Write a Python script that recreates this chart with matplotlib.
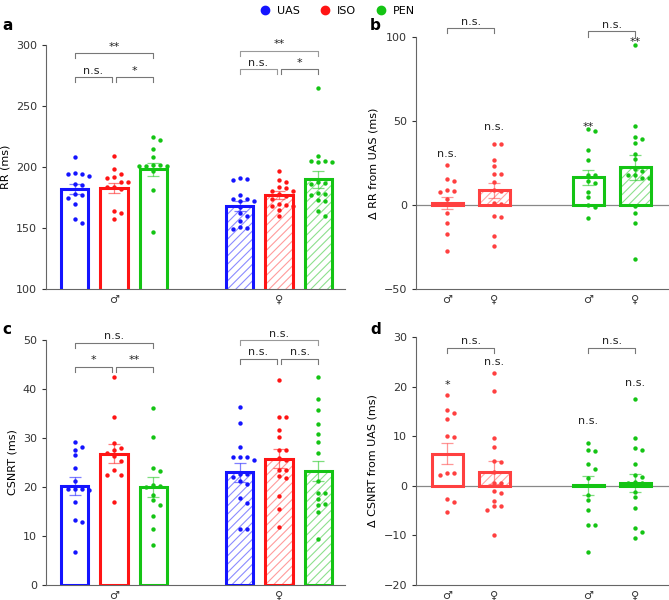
import numpy as np
import matplotlib.pyplot as plt
from matplotlib.lines import Line2D

plt.rcParams['font.family'] = ['DejaVu Sans']
plt.rcParams['hatch.linewidth'] = 0.8

BLUE = "#1414ff"
RED = "#ff1414"
GREEN = "#14c414"
RED_D = "#ff4040"
LIGHT = {BLUE: "#8c8cff", RED: "#ff9c9c", GREEN: "#8ee08e", RED_D: "#ffa8a8"}
GREY = "#777777"

groups = ["UAS", "ISO", "PEN"]
sex_labels = ["\u2642", "\u2640"]

# ---- panel a: RR (ms) ----
rr_male_uas = [208, 193, 194, 194, 195, 186, 185, 178, 177, 175, 170, 157, 154]
rr_male_iso = [209, 198, 191, 192, 194, 188, 188, 184, 184, 182, 164, 162, 157]
rr_male_pen = [225, 222, 215, 208, 202, 201, 201, 202, 201, 197, 181, 147]
rr_female_uas = [191, 190, 189, 177, 174, 174, 172, 172, 167, 162, 160, 156, 151, 149, 150]
rr_female_iso = [197, 189, 188, 184, 183, 180, 180, 178, 176, 174, 169, 170, 168, 168, 165, 160]
rr_female_pen = [265, 209, 205, 205, 204, 204, 188, 187, 186, 179, 178, 177, 173, 172, 164, 160]
rr_means = [182, 183, 198, 168, 177, 190]
rr_sems = [4, 4, 5.5, 4, 3.5, 7]

# ---- panel b: delta RR from UAS ----
drr_iso_male = [23.8, 15.5, 14.5, 9, 8.5, 8, 3.6, 0.6, 0.6, -5, -10.7, -17, -27.2]
drr_iso_female = [36.3, 36.3, 27, 23.4, 18.4, 18.4, 13.5, 9, 8.5, 1, 0.8, -6.5, -7, -18.7, -24.2]
drr_pen_male = [45, 44, 33, 27, 18, 18, 14.5, 13, 7.5, 4.5, 0, -1, -7.5]
drr_pen_female = [95.5, 47, 40.5, 39.5, 37, 30.5, 27.5, 21.3, 20.5, 18, 17.7, 16, 16, -0.6, -4.8, -10.7, -32]
drr_means = [1.2, 8.7, 16.4, 22.4]
drr_sems = [3.6, 4.5, 4.6, 7.6]

# ---- panel c: CSNRT (ms) ----
cs_male_uas = [29.1, 28.1, 27.6, 26.5, 23.9, 21.2, 19.5, 19.5, 19.5, 19.3, 17, 13.3, 12.9, 6.7]
cs_male_iso = [42.5, 34.3, 28.9, 27.9, 27.6, 26.9, 26.3, 25.3, 23.4, 22.5, 22.4, 16.9]
cs_male_pen = [36.1, 30.3, 23.8, 23.3, 20.4, 20.2, 20, 18.4, 17.3, 16.4, 14.1, 11.4, 8.2]
cs_female_uas = [36.4, 33.1, 28.2, 26.2, 26.2, 26.2, 25.5, 22.7, 22.7, 22, 21.2, 20.7, 17.8, 16.8, 11.5, 11.5]
cs_female_iso = [41.8, 34.3, 34.3, 31.6, 30.2, 27.5, 27.5, 26, 25.5, 23.5, 23.4, 22.2, 21.8, 18.2, 15.5, 11.9]
cs_female_pen = [42.5, 38, 35.8, 32.9, 30.8, 29.1, 26.9, 21.3, 18.8, 18.8, 17.6, 16.6, 16.3, 15, 9.4]
cs_means = [20.2, 26.8, 20.0, 23.0, 25.8, 23.3]
cs_sems = [1.9, 1.9, 2.1, 1.9, 2.0, 2.1]

# ---- panel d: delta CSNRT from UAS ----
dcs_iso_male = [18.4, 15.2, 14.7, 13.5, 10.1, 9.9, 2.5, 2.2, 2.5, -2.6, -3.2, -5.2]
dcs_iso_female = [22.8, 19.1, 9.7, 7.9, 5, 4.9, 2.7, 0.6, 0.5, -1, -1.4, -3, -4, -4.1, -4.8, -10]
dcs_pen_male = [8.7, 7.2, 7, 4.4, 3.4, 1.5, -1.8, -2.9, -4.9, -7.9, -8, -13.4]
dcs_pen_female = [17.6, 9.6, 7.6, 7.3, 4.3, 2.1, 1.8, 0.8, 0.6, 0.6, -1.2, -2.3, -4.4, -8.6, -9.4, -10.5]
dcs_means = [6.5, 2.7, 0.1, 0.6]
dcs_sems = [2.2, 2.3, 1.9, 1.8]

# significance labels
sig_a = {"male": ["n.s.", "*", "**"], "female": ["n.s.", "*", "**"]}
sig_c = {"male": ["*", "**", "n.s."], "female": ["n.s.", "n.s.", "n.s."]}
sig_b_bars = ["n.s.", "n.s.", "**", "**"]
sig_b_sex = ["n.s.", "n.s."]
sig_d_bars = ["*", "n.s.", "n.s.", "n.s."]
sig_d_sex = ["n.s.", "n.s."]

FS = 8


def swarm(ax, x0, vals, dx=7.0, dy=5.0):
    """spread dots sideways where they would overlap (pixel space)"""
    vals = np.asarray(vals, float)
    tr = ax.transData
    base = tr.transform(np.column_stack([np.full(len(vals), x0), vals]))
    order = np.argsort(-vals)
    placed = []
    out = np.zeros_like(base)
    for i in order:
        px, py = base[i]
        for k in range(12):
            off = ((k + 1) // 2) * dx * (1 if k % 2 else -1)
            if all(abs(px + off - qx) > dx * 0.8 or abs(py - qy) > dy for qx, qy in placed):
                break
        placed.append((px + off, py))
        out[i] = (px + off, py)
    return tr.inverted().transform(out)[:, 0]


def draw_bar(ax, x, h, sem, vals, color, hatched, w, edge=None):
    edge = edge or color
    if hatched:
        ax.bar(x, h, w, color="white", edgecolor=LIGHT[color], hatch="////", linewidth=0, zorder=2)
    else:
        ax.bar(x, h, w, color="white", linewidth=0, zorder=2)
    ax.bar(x, h, w, fill=False, edgecolor=edge, linewidth=2.2, zorder=3)
    ax.errorbar(x, h, yerr=sem, fmt="none", ecolor=color, alpha=0.55, elinewidth=0.9,
                capsize=4.5, capthick=0.9, zorder=4)
    xs = swarm(ax, x, vals)
    ax.scatter(xs, vals, s=10, color=color, linewidths=0, zorder=5)


def bracket(ax, x1, x2, y, h, text, color=GREY):
    ax.plot([x1, x1, x2, x2], [y - h, y, y, y - h], color=color, lw=0.8, clip_on=False)
    ax.annotate(text, xy=((x1 + x2) / 2, y), xytext=(0, 2.5), textcoords="offset points",
                ha="center", va="baseline", fontsize=FS, color="#222222", annotation_clip=False)


def style(ax):
    for s in ["top", "right"]:
        ax.spines[s].set_visible(False)
    for s in ["left", "bottom"]:
        ax.spines[s].set_color("#666666")
        ax.spines[s].set_linewidth(0.8)
    ax.tick_params(axis="y", labelsize=FS, colors="#333333", length=3, width=0.8)
    ax.tick_params(axis="x", labelsize=FS, colors="#333333", length=0, pad=4)


fig = plt.figure(figsize=(6.69, 6.0), dpi=100)
ax_a = fig.add_axes([0.0688, 0.5183, 0.447, 0.4067])
ax_b = fig.add_axes([0.6218, 0.5183, 0.378, 0.4200])
ax_c = fig.add_axes([0.0688, 0.0250, 0.447, 0.4083])
ax_d = fig.add_axes([0.6218, 0.0250, 0.378, 0.4133])

colors = [BLUE, RED, GREEN]
pos_m = [0, 1, 2]
pos_f = [4.2, 5.2, 6.2]
BW = 0.69

# panel a
ax_a.set_xlim(-0.73, 6.88)
ax_a.set_ylim(100, 300)
ax_a.set_yticks([100, 150, 200, 250, 300])
male_rr = [rr_male_uas, rr_male_iso, rr_male_pen]
female_rr = [rr_female_uas, rr_female_iso, rr_female_pen]
for i in range(3):
    draw_bar(ax_a, pos_m[i], rr_means[i], rr_sems[i], male_rr[i], colors[i], False, BW)
    draw_bar(ax_a, pos_f[i], rr_means[3 + i], rr_sems[3 + i], female_rr[i], colors[i], True, BW)
bracket(ax_a, 0, 0.95, 273.5, 4, sig_a["male"][0])
bracket(ax_a, 1.05, 2, 273.5, 4, sig_a["male"][1])
bracket(ax_a, 0, 2, 293.3, 4, sig_a["male"][2])
bracket(ax_a, 4.2, 5.15, 280, 4, sig_a["female"][0], "#999999")
bracket(ax_a, 5.25, 6.2, 280, 4, sig_a["female"][1])
bracket(ax_a, 4.2, 6.2, 295.3, 4, sig_a["female"][2], "#999999")
ax_a.set_xticks([1, 5.2])
ax_a.set_xticklabels(sex_labels)
ax_a.set_ylabel("RR (ms)", fontsize=FS)
style(ax_a)

# panel c
ax_c.set_xlim(-0.73, 6.88)
ax_c.set_ylim(0, 50)
ax_c.set_yticks([0, 10, 20, 30, 40, 50])
male_cs = [cs_male_uas, cs_male_iso, cs_male_pen]
female_cs = [cs_female_uas, cs_female_iso, cs_female_pen]
for i in range(3):
    draw_bar(ax_c, pos_m[i], cs_means[i], cs_sems[i], male_cs[i], colors[i], False, BW)
    draw_bar(ax_c, pos_f[i], cs_means[3 + i], cs_sems[3 + i], female_cs[i], colors[i], True, BW)
bracket(ax_c, 0, 0.95, 44.5, 1, sig_c["male"][0])
bracket(ax_c, 1.05, 2, 44.5, 1, sig_c["male"][1])
bracket(ax_c, 0, 2, 49.4, 1, sig_c["male"][2])
bracket(ax_c, 4.2, 5.15, 46.2, 1, sig_c["female"][0])
bracket(ax_c, 5.25, 6.2, 46.2, 1, sig_c["female"][1])
bracket(ax_c, 4.2, 6.2, 50.0, 1, sig_c["female"][2], "#999999")
ax_c.set_xticks([1, 5.2])
ax_c.set_xticklabels(sex_labels)
ax_c.set_ylabel("CSNRT (ms)", fontsize=FS)
style(ax_c)

# panels b and d
pos_d = [0, 1, 3, 4]
BW2 = 0.66
d_cols = [RED_D, RED_D, GREEN, GREEN]
d_hatch = [False, True, False, True]

ax_b.set_xlim(-0.67, 4.71)
ax_b.set_ylim(-50, 100)
ax_b.set_yticks([-50, 0, 50, 100])
ax_b.axhline(0, color="#888888", lw=0.9, zorder=1)
b_vals = [drr_iso_male, drr_iso_female, drr_pen_male, drr_pen_female]
for i in range(4):
    draw_bar(ax_b, pos_d[i], drr_means[i], drr_sems[i], b_vals[i], d_cols[i], d_hatch[i], BW2)
b_text_y = [28.6, 44.6, 44.6, 95.5]
for i in range(4):
    ax_b.text(pos_d[i], b_text_y[i], sig_b_bars[i], ha="center", va="baseline", fontsize=FS, color="#222222")
bracket(ax_b, 0, 1, 105.2, 3, sig_b_sex[0])
bracket(ax_b, 3, 4, 103.3, 3, sig_b_sex[1])
ax_b.set_xticks(pos_d)
ax_b.set_xticklabels(sex_labels * 2)
ax_b.set_ylabel("\u0394 RR from UAS (ms)", fontsize=FS)
style(ax_b)

ax_d.set_xlim(-0.67, 4.71)
ax_d.set_ylim(-20, 30)
ax_d.set_yticks([-20, -10, 0, 10, 20, 30])
ax_d.axhline(0, color="#888888", lw=0.9, zorder=1)
d_vals = [dcs_iso_male, dcs_iso_female, dcs_pen_male, dcs_pen_female]
for i in range(4):
    draw_bar(ax_d, pos_d[i], dcs_means[i], dcs_sems[i], d_vals[i], d_cols[i], d_hatch[i], BW2)
d_text_y = [19.8, 24.4, 12.5, 20.1]
for i in range(4):
    ax_d.text(pos_d[i], d_text_y[i], sig_d_bars[i], ha="center", va="baseline", fontsize=FS, color="#222222")
bracket(ax_d, 0, 1, 27.85, 1, sig_d_sex[0])
bracket(ax_d, 3, 4, 27.85, 1, sig_d_sex[1])
ax_d.set_xticks(pos_d)
ax_d.set_xticklabels(sex_labels * 2)
ax_d.set_ylabel("\u0394 CSNRT from UAS (ms)", fontsize=FS)
style(ax_d)

# panel letters
for lab, (x, y) in zip("abcd", [(0.004, 0.958), (0.553, 0.958), (0.004, 0.45), (0.553, 0.45)]):
    fig.text(x, y, lab, fontsize=11, fontweight="bold", va="center", ha="left")

handles = [Line2D([], [], marker="o", ls="", color=c, markersize=6) for c in colors]
fig.legend(handles, groups, loc="center", bbox_to_anchor=(0.5, 0.982), ncol=3, frameon=False,
           fontsize=FS, handletextpad=0.1, columnspacing=1.2)

fig.savefig("out.png", dpi=100)
